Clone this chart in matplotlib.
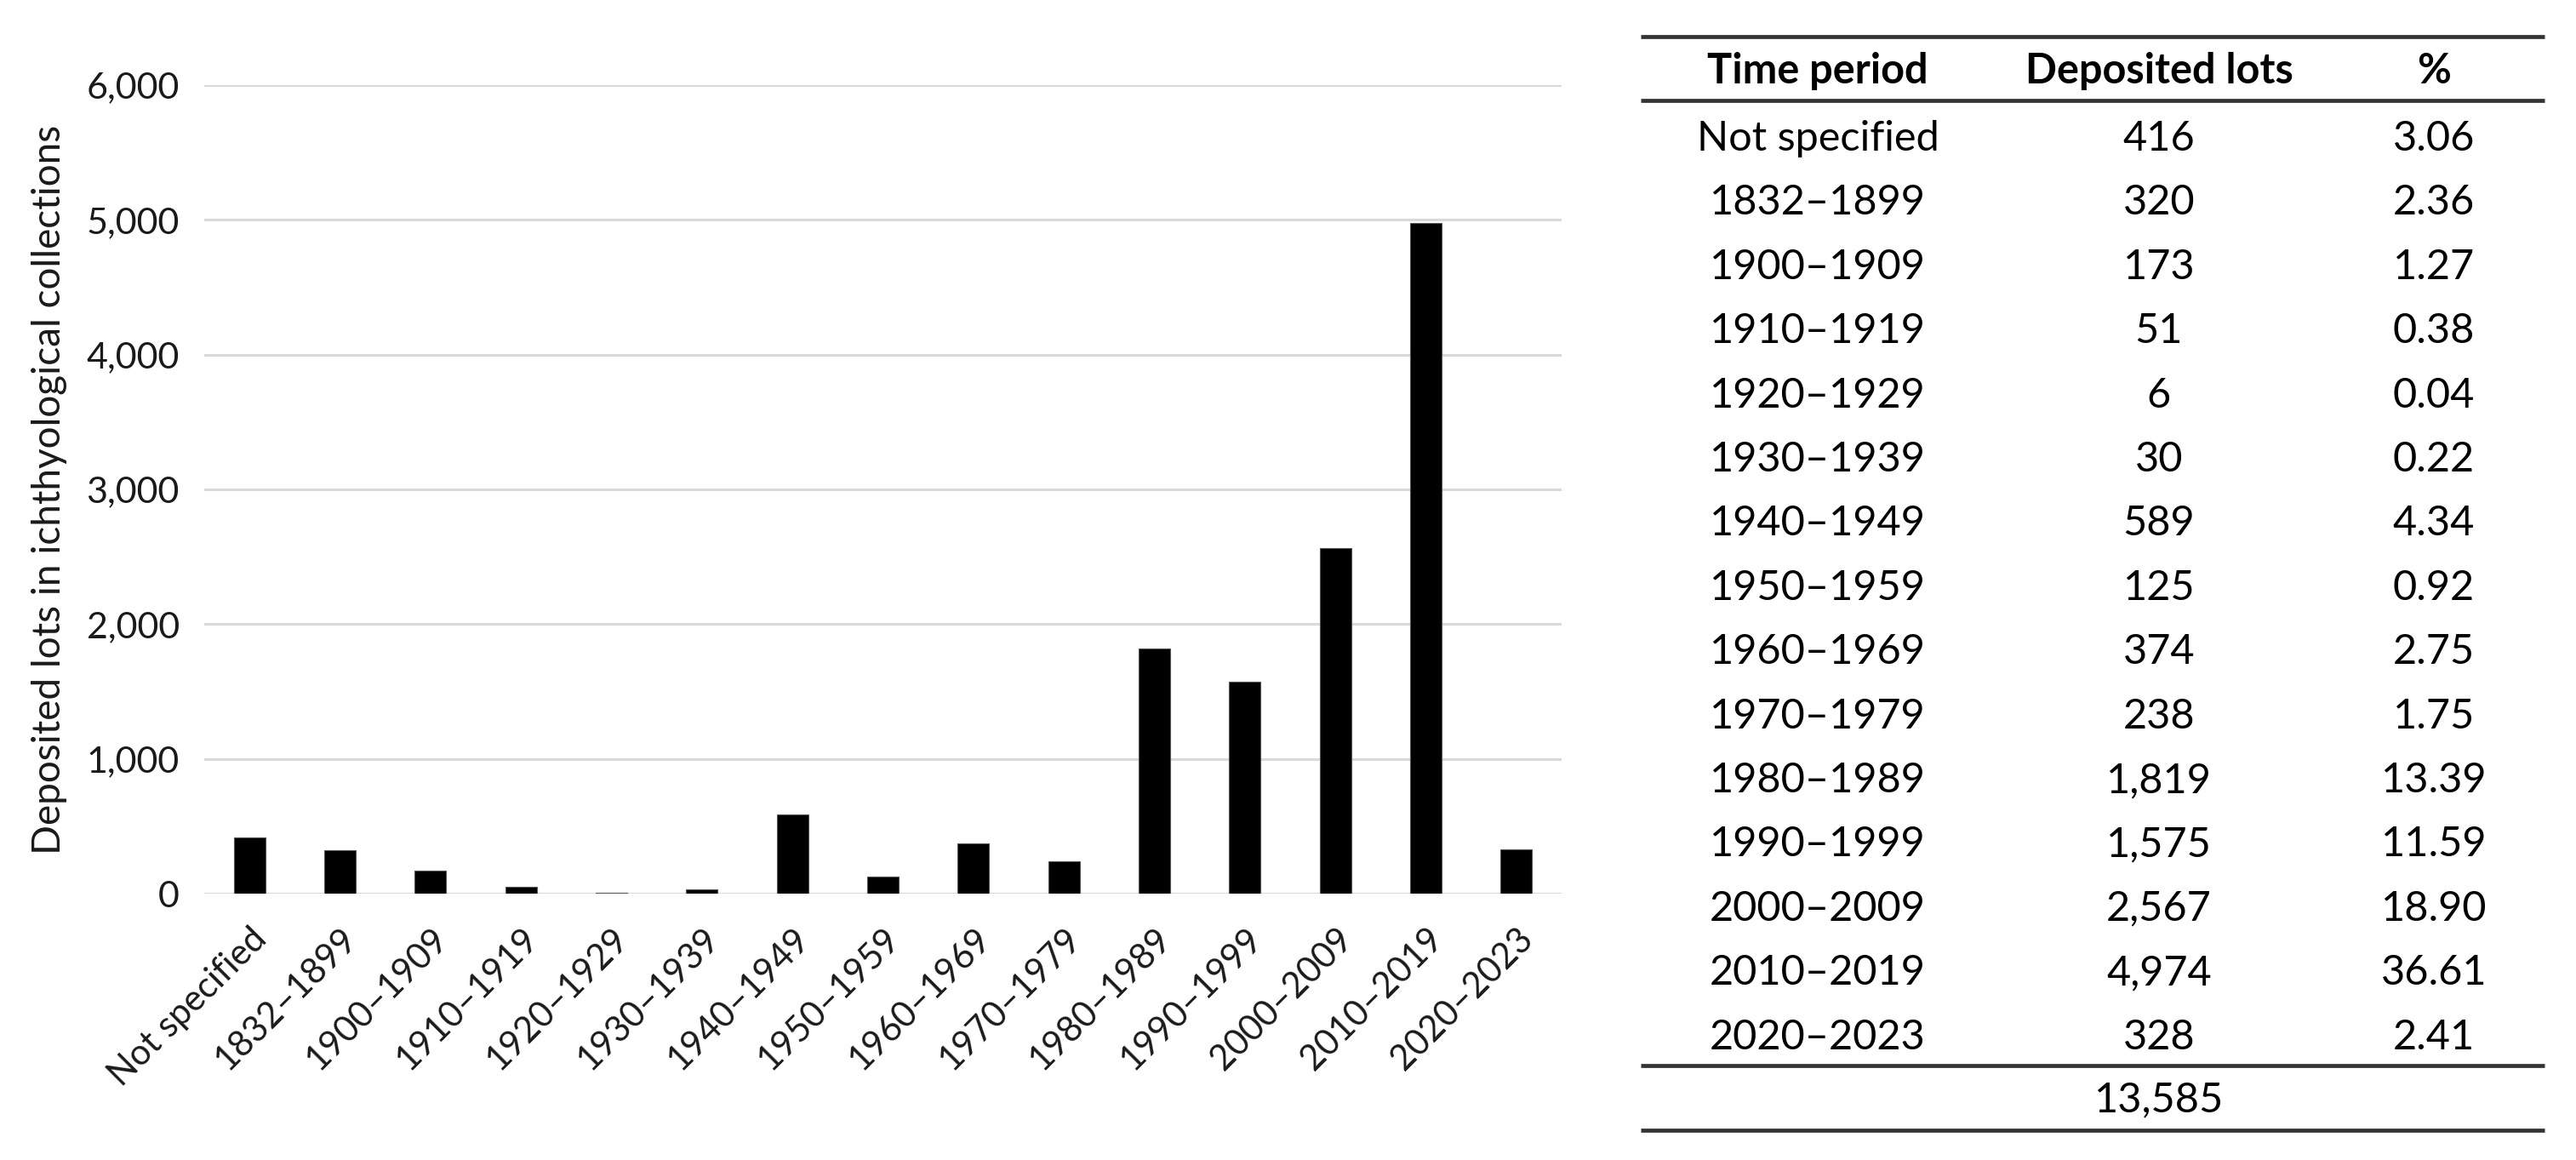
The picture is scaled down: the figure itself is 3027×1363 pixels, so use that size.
import numpy as np
from matplotlib import pyplot as plt
from matplotlib.ticker import FuncFormatter

periods = [
    "Not specified", "1832–1899", "1900–1909", "1910–1919", "1920–1929",
    "1930–1939", "1940–1949", "1950–1959", "1960–1969", "1970–1979",
    "1980–1989", "1990–1999", "2000–2009", "2010–2019", "2020–2023",
]
lots = [416, 320, 173, 51, 6, 30, 589, 125, 374, 238, 1819, 1575, 2567, 4974, 328]
percent = [3.06, 2.36, 1.27, 0.38, 0.04, 0.22, 4.34, 0.92, 2.75, 1.75,
           13.39, 11.59, 18.90, 36.61, 2.41]
total_lots = 13585
yticks = [0, 1000, 2000, 3000, 4000, 5000, 6000]

plt.rcParams["font.family"] = ["Lato", "DejaVu Sans"]

W, H = 3027, 1363
fig = plt.figure(figsize=(W / 100, H / 100), dpi=100)

# bar chart on the left
ax = fig.add_axes([240 / W, 1 - 1050 / H, (1835 - 240) / W, 950 / H])
x = np.arange(len(periods))
ax.bar(x, lots, width=0.35, color="black", edgecolor="#555555",
       linewidth=0.8, zorder=3)
ax.set_xlim(-0.5, len(periods) - 0.5)
ax.set_ylim(0, 6000)
ax.set_yticks(yticks)
ax.yaxis.set_major_formatter(FuncFormatter(lambda v, p: f"{int(v):,}"))
ax.grid(axis="y", color="#d9d9d9", linewidth=2.2, zorder=0)
for s in ax.spines.values():
    s.set_visible(False)
ax.tick_params(axis="both", length=0, colors="#1a1a1a")
ax.tick_params(axis="y", pad=21, labelsize=31)
ax.set_xticks(x)
ax.set_xticklabels(periods, rotation=45, ha="right", rotation_mode="anchor")
ax.tick_params(axis="x", pad=24, labelsize=30)
ax.set_ylabel("Deposited lots in ichthyological collections", fontsize=33,
              color="#1a1a1a")
ax.yaxis.set_label_coords(-0.101, 0.5)

# table on the right
tx = fig.add_axes([0, 0, 1, 1])
tx.set_xlim(0, W)
tx.set_ylim(H, 0)
tx.axis("off")

left, right = 1928, 2990
cols = [2136, 2537, 2860]
row0, step = 163, 75.4

for yl in [43, 118, 1252, 1328]:
    tx.hlines(yl, left, right, color="#333333", linewidth=3.4)

for c, h in zip(cols, ["Time period", "Deposited lots", "%"]):
    tx.text(c, 84, h, ha="center", va="center", fontsize=35,
            fontweight="bold", color="black")

for i, (p, n, pc) in enumerate(zip(periods, lots, percent)):
    y = row0 + i * step
    tx.text(cols[0], y, p, ha="center", va="center", fontsize=35)
    tx.text(cols[1], y, f"{n:,}", ha="center", va="center", fontsize=35)
    tx.text(cols[2], y, f"{pc:.2f}", ha="center", va="center", fontsize=35)

tx.text(cols[1], 1292, f"{total_lots:,}", ha="center", va="center", fontsize=35)

plt.savefig("out.png", dpi=100)
